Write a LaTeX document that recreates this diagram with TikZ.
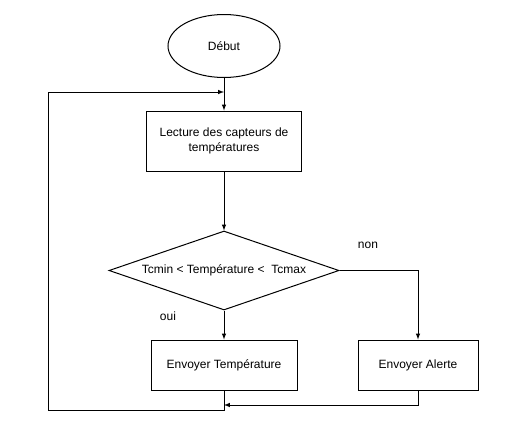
\documentclass[tikz,border=0pt]{standalone}
\usepackage{fontspec}
\setmainfont{Liberation Sans}
\usetikzlibrary{arrows,shapes.geometric}

\tikzset{
  bloc/.style={draw,fill=white,rectangle,inner sep=0pt,align=center,line width=1pt},
  debut/.style={draw,fill=white,ellipse,inner sep=0pt,minimum width=112pt,minimum height=63pt,line width=1pt},
  test/.style={draw,fill=white,diamond,inner sep=0pt,aspect=2.9,minimum width=230pt,minimum height=79pt,line width=1pt},
  fleche/.style={->,>=latex,line width=1pt},
}

\begin{document}
\begin{tikzpicture}[x=1pt,y=-1pt,font=\fontsize{12}{15}\selectfont]
        \useasboundingbox (0,0) rectangle (507,442);
        %
        \node[debut] (debut) at (224,46) {Début};
        \node[bloc,minimum width=155pt,minimum height=60pt] (lecture) at (224,141) {Lecture des capteurs de\\températures};
        \node[test] (test) at (224,270.5) {Tcmin < Température <\ \ Tcmax};
        \node[bloc,minimum width=146pt,minimum height=50pt] (envtemp) at (224,365) {Envoyer Température};
        \node[bloc,minimum width=120pt,minimum height=50pt] (envalerte) at (418,365) {Envoyer Alerte};
        %
        \node (non) at (368,245) {non};
        \node (oui) at (168,316) {oui};
        %
        \coordinate (retour) at (224,92);
        \coordinate (coin) at (48,410);
        \coordinate (jonction) at (224,405);
        %
        \draw[fleche] (debut) -- (lecture);
        \draw[fleche] (lecture) -- (test);
        \draw[fleche] (test) -- (envtemp);
        \draw[fleche] (test.east) -| (envalerte.north);
        \draw[fleche] (envalerte.south) |- (jonction);
        \draw[fleche] (envtemp.south) |- (coin) |- (retour);
      \end{tikzpicture}
\end{document}
